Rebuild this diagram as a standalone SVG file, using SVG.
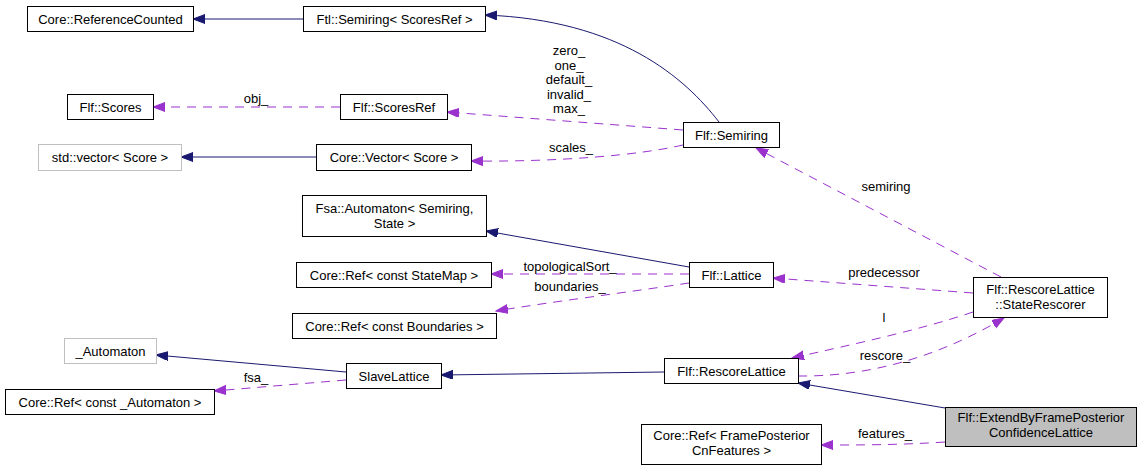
<svg xmlns="http://www.w3.org/2000/svg" width="1141" height="470" viewBox="0 0 1141 470">
<defs>
<style>
.box{fill:#ffffff;stroke:#000000;stroke-width:1}
.gbox{fill:#ffffff;stroke:#bfbfbf;stroke-width:1}
.sel{fill:#bfbfbf;stroke:#000000;stroke-width:1}
text{font-family:"Liberation Sans",Arial,sans-serif;font-size:13px;fill:#000000}
.c{text-anchor:middle}
.inh{fill:none;stroke:#191970;stroke-width:1;marker-end:url(#aInh)}
.use{fill:none;stroke:#9a32cd;stroke-width:1;stroke-dasharray:9,7;marker-end:url(#aUse)}
</style>
<marker id="aInh" markerUnits="userSpaceOnUse" markerWidth="14" markerHeight="11" refX="12" refY="4.5" orient="auto">
<path d="M0,0 L12,4.5 L0,9 z" fill="#191970" stroke="#191970"/>
</marker>
<marker id="aUse" markerUnits="userSpaceOnUse" markerWidth="14" markerHeight="11" refX="12" refY="4.5" orient="auto">
<path d="M0,0 L12,4.5 L0,9 z" fill="#9a32cd" stroke="#9a32cd"/>
</marker>
</defs>
<rect width="1141" height="470" fill="#ffffff"/>
<g id="edges">
<path class="inh" d="M303,19 L193,19"/>
<path class="inh" d="M719,122 C685,78 620,20 485,15"/>
<path class="use" d="M340,107 L153,107"/>
<text class="c" x="256" y="103">obj_</text>
<path class="use" d="M683,130 L447,112"/>
<text class="c" x="569" y="55">zero_</text>
<text class="c" x="569" y="69.5">one_</text>
<text class="c" x="569" y="84">default_</text>
<text class="c" x="569" y="98.5">invalid_</text>
<text class="c" x="569" y="113">max_</text>
<path class="inh" d="M316,157 L181,157"/>
<path class="use" d="M683,145 C640,155 560,162 471,161"/>
<text class="c" x="571" y="152">scales_</text>
<path class="inh" d="M689,267 L486,231"/>
<path class="use" d="M689,274 L491,274"/>
<text class="c" x="570" y="271">topologicalSort_</text>
<path class="use" d="M689,283 C630,292 550,302 496,311"/>
<text class="c" x="570" y="291">boundaries_</text>
<path class="use" d="M1001,277 L756,148"/>
<text class="c" x="886" y="191">semiring</text>
<path class="use" d="M973,293 L773,278"/>
<text class="c" x="884" y="277">predecessor</text>
<path class="use" d="M973,312 C920,330 850,345 792,358"/>
<text class="c" x="884" y="322">l</text>
<path class="use" d="M798,376 C880,377 950,350 1004,318"/>
<text class="c" x="885" y="360">rescore_</text>
<path class="inh" d="M945,408 L798,383"/>
<path class="use" d="M945,442 C900,445 860,445 821,445"/>
<text class="c" x="885" y="438">features_</text>
<path class="inh" d="M664,372 L441,375"/>
<path class="inh" d="M346,372 L156,355"/>
<path class="use" d="M346,380 L214,391"/>
<text class="c" x="256" y="382">fsa_</text>
</g>
<g id="n_refcounted"><rect class="box" x="27.5" y="6.5" width="166" height="25"/><text class="c" x="110.5" y="23.5">Core::ReferenceCounted</text></g>
<g id="n_ftlsemiring"><rect class="box" x="303.5" y="6.5" width="182" height="25"/><text class="c" x="394.5" y="23.5">Ftl::Semiring&lt; ScoresRef &gt;</text></g>
<g id="n_scores"><rect class="box" x="67.5" y="94.5" width="86" height="25"/><text class="c" x="110.5" y="111.5">Flf::Scores</text></g>
<g id="n_scoresref"><rect class="box" x="340.5" y="94.5" width="107" height="25"/><text class="c" x="394" y="111.5">Flf::ScoresRef</text></g>
<g id="n_stdvector"><rect class="gbox" x="38.5" y="144.5" width="143" height="26"/><text class="c" x="110" y="162">std::vector&lt; Score &gt;</text></g>
<g id="n_corevector"><rect class="box" x="316.5" y="144.5" width="155" height="26"/><text class="c" x="394" y="162">Core::Vector&lt; Score &gt;</text></g>
<g id="n_flfsemiring"><rect class="box" x="683.5" y="122.5" width="96" height="25"/><text class="c" x="731.5" y="139.5">Flf::Semiring</text></g>
<g id="n_fsaauto"><rect class="box" x="302.5" y="195.5" width="184" height="41"/><text class="c" x="394.5" y="212.5">Fsa::Automaton&lt; Semiring,</text><text class="c" x="394.5" y="227.5">State &gt;</text></g>
<g id="n_statemap"><rect class="box" x="296.5" y="262.5" width="195" height="25"/><text class="c" x="394" y="279.5">Core::Ref&lt; const StateMap &gt;</text></g>
<g id="n_boundaries"><rect class="box" x="292.5" y="313.5" width="204" height="25"/><text class="c" x="394.5" y="330.5">Core::Ref&lt; const Boundaries &gt;</text></g>
<g id="n_lattice"><rect class="box" x="689.5" y="262.5" width="84" height="25"/><text class="c" x="731.5" y="279.5">Flf::Lattice</text></g>
<g id="n_rescorer"><rect class="box" x="973.5" y="277.5" width="134" height="40"/><text class="c" x="1040.5" y="293.5">Flf::RescoreLattice</text><text class="c" x="1040.5" y="308.5">::StateRescorer</text></g>
<g id="n_automaton"><rect class="gbox" x="64.5" y="338.5" width="92" height="25"/><text class="c" x="110.5" y="355.5">_Automaton</text></g>
<g id="n_slave"><rect class="box" x="346.5" y="363.5" width="95" height="25"/><text class="c" x="394" y="380.5">SlaveLattice</text></g>
<g id="n_rescorelattice"><rect class="box" x="664.5" y="358.5" width="134" height="25"/><text class="c" x="731.5" y="375.5">Flf::RescoreLattice</text></g>
<g id="n_refauto"><rect class="box" x="5.5" y="389.5" width="209" height="25"/><text class="c" x="110" y="406.5">Core::Ref&lt; const _Automaton &gt;</text></g>
<g id="n_extend"><rect class="sel" x="945.5" y="407.5" width="191" height="39"/><text class="c" x="1041" y="422">Flf::ExtendByFramePosterior</text><text class="c" x="1041" y="437">ConfidenceLattice</text></g>
<g id="n_features"><rect class="box" x="641.5" y="424.5" width="180" height="40"/><text class="c" x="731.5" y="439.5">Core::Ref&lt; FramePosterior</text><text class="c" x="731.5" y="454.5">CnFeatures &gt;</text></g>
</svg>
